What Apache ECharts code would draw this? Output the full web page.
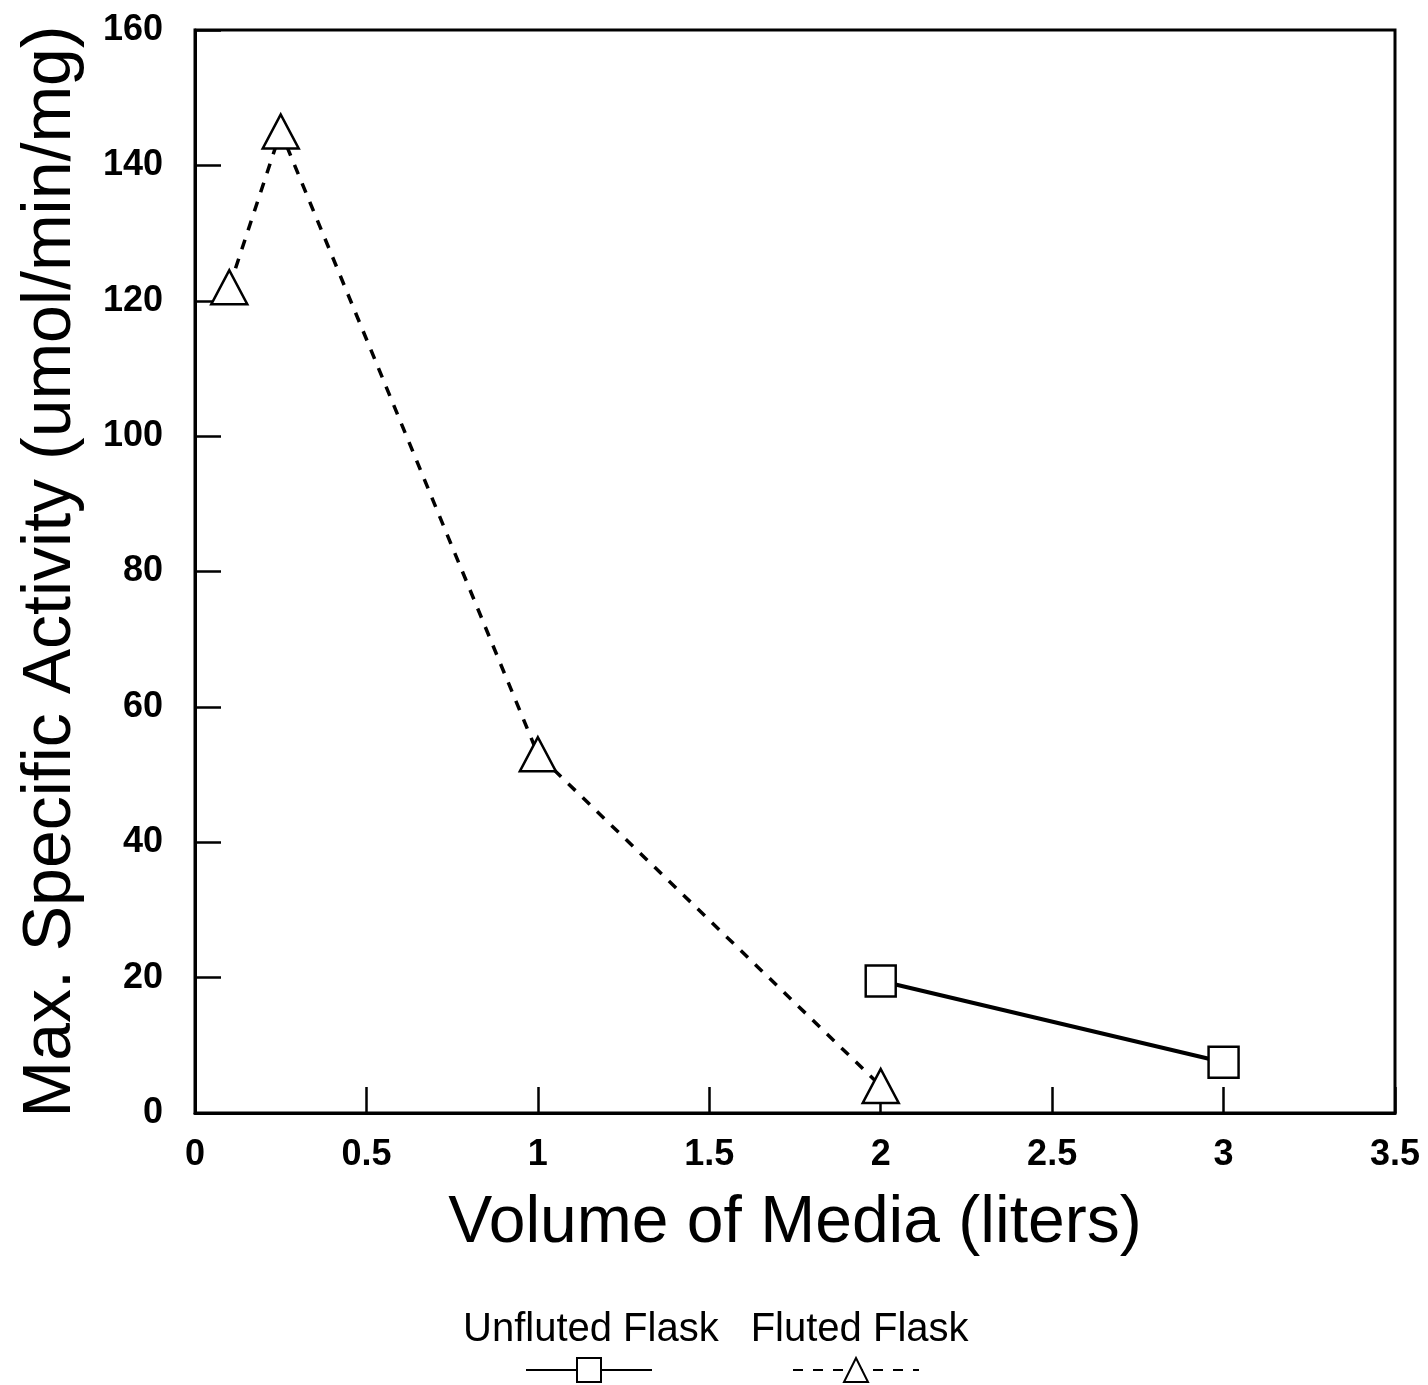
<!DOCTYPE html>
<html>
<head>
<meta charset="utf-8">
<script src="https://cdn.jsdelivr.net/npm/echarts@6/dist/echarts.min.js"></script>
<style>html,body{margin:0;padding:0;background:#fff;}#c{width:1428px;height:1385px;}</style>
</head>
<body>
<div id="c"></div>
<script>
const xTitle = 'Volume of Media (liters)';
const yTitle = 'Max. Specific Activity (umol/min/mg)';
const seriesNames = ['Unfluted Flask', 'Fluted Flask'];
const unflutedX = [2, 3];
const unflutedY = [19.5, 7.5];
const flutedX = [0.1, 0.25, 1, 2];
const flutedY = [122, 145, 53, 4];

const FONT = '"Liberation Sans", Arial, Helvetica, sans-serif';
const chart = echarts.init(document.getElementById('c'));
chart.setOption({
  animation: false,
  backgroundColor: '#fff',
  grid: { left: 195, right: 33, top: 30, bottom: 272, show: true, borderColor: '#000', borderWidth: 3, backgroundColor: 'transparent' },
  legend: [
    {
      data: seriesNames, left: 452, top: 1305, icon: 'rect', itemWidth: 0, itemHeight: 0, itemGap: 26,
      textStyle: { fontFamily: FONT, fontSize: 40, color: '#000' }
    },
    {
      data: seriesNames, left: 520, top: 1350, itemWidth: 126, itemHeight: 30, itemGap: 139,
      formatter: function () { return ''; },
      textStyle: { fontSize: 1 }
    }
  ],
  xAxis: {
    type: 'value', min: 0, max: 3.5, interval: 0.5,
    name: xTitle, nameLocation: 'middle', nameGap: 78,
    nameTextStyle: { fontFamily: FONT, fontSize: 66, color: '#000' },
    axisLine: { show: true, lineStyle: { color: '#000', width: 3 } },
    axisTick: { show: true, inside: true, length: 26, lineStyle: { color: '#000', width: 2.5 } },
    axisLabel: { fontFamily: FONT, fontSize: 36, fontWeight: 'bold', color: '#000', margin: 24, formatter: function (v) { return String(v); } },
    splitLine: { show: false }
  },
  yAxis: {
    type: 'value', min: 0, max: 160, interval: 20,
    name: yTitle, nameLocation: 'middle', nameGap: 110,
    nameTextStyle: { fontFamily: FONT, fontSize: 68, color: '#000' },
    axisLine: { show: true, lineStyle: { color: '#000', width: 3 } },
    axisTick: { show: true, inside: true, length: 26, lineStyle: { color: '#000', width: 2.5 } },
    axisLabel: { fontFamily: FONT, fontSize: 36, fontWeight: 'bold', color: '#000', margin: 32 },
    splitLine: { show: false }
  },
  series: [
    {
      name: seriesNames[0], type: 'line',
      data: unflutedX.map((x, i) => [x, unflutedY[i]]),
      symbol: 'rect', symbolSize: [30, 31],
      lineStyle: { color: '#000', width: 4, type: 'solid' },
      itemStyle: { color: '#fff', borderColor: '#000', borderWidth: 2.5 },
      z: 3
    },
    {
      name: seriesNames[1], type: 'line',
      data: flutedX.map((x, i) => [x, flutedY[i]]),
      symbol: 'triangle', symbolSize: [36, 34],
      lineStyle: { color: '#000', width: 3.5, type: [10, 10] },
      itemStyle: { color: '#fff', borderColor: '#000', borderWidth: 2.5 },
      z: 3
    }
  ]
});
</script>
</body>
</html>
